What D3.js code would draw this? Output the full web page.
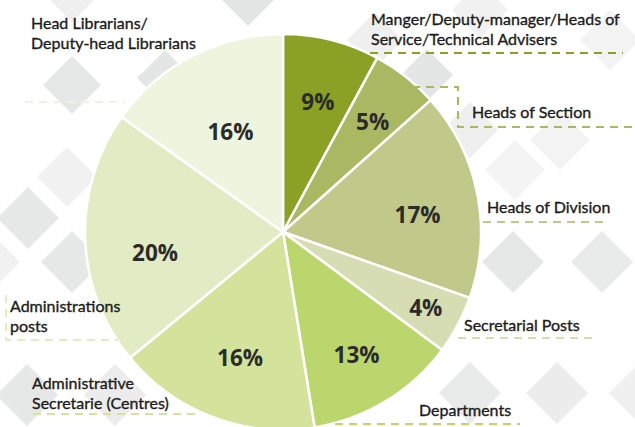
<!DOCTYPE html>
<html><head><meta charset="utf-8">
<script src="https://cdn.jsdelivr.net/npm/d3@7"></script>
<style>html,body{margin:0;padding:0;background:#fff;}svg{display:block;}</style>
</head><body><svg id="c" width="635" height="427"></svg>
<script>
// Data (clockwise from 12 o'clock)
const categories = ["Manger/Deputy-manager/Heads of Service/Technical Advisers","Heads of Section","Heads of Division","Secretarial Posts","Departments","Administrative Secretarie (Centres)","Administrations posts","Head Librarians/ Deputy-head Librarians"];
const sliceShares = [7.9, 5.5, 17.0, 4.75, 12.3, 16.6, 20.8, 15.15];
const percentLabels = ["9%","5%","17%","4%","13%","16%","20%","16%"];
const sliceColors = ["#8aa126","#aab863","#c1c98a","#d6ddb3","#bcd66e","#d3e39c","#e1ecc4","#eef5df"];

const W = 635, H = 427;
const svg = d3.select("#c");

// background diamonds (decoration)
const diamonds = [
  [248,-10,36,"#e4e5e5"],[72,-8,30,"#efefef"],[72,85,29,"#e6e7e7"],[165,78,28,"#e4e5e5"],
  [67,177,30,"#f1f1f1"],[28,218,31,"#e6e7e7"],[72,262,31,"#e6e7e7"],[-10,262,30,"#f1f1f1"],
  [27,395,31,"#e6e7e7"],[115,395,31,"#ececec"],[513,262,31,"#e6e7e7"],[602,262,31,"#e9eaea"],
  [470,393,31,"#e9eaea"],[557,393,31,"#ececec"],[640,393,31,"#f0f0f0"],[427,75,26,"#e4e5e5"],
  [375,40,28,"#efefef"],[480,10,28,"#f1f1f1"],[560,140,30,"#f3f3f3"],[515,170,30,"#f4f4f4"],
  [610,40,30,"#f3f3f3"],[470,130,28,"#efefef"]
];
svg.append("g").selectAll("path").data(diamonds).join("path")
  .attr("d", d => `M${d[0]},${d[1]-d[2]}L${d[0]+d[2]},${d[1]}L${d[0]},${d[1]+d[2]}L${d[0]-d[2]},${d[1]}Z`)
  .attr("fill", d => d[3]);

const cx = 283, cy = 232, R = 198;
const g = svg.append("g").attr("transform", `translate(${cx},${cy})`);
const pie = d3.pie().sort(null).value(d => d)(sliceShares);
const arc = d3.arc().innerRadius(0).outerRadius(R);
g.selectAll("path.s").data(pie).join("path").attr("class","s")
  .attr("d", arc).attr("fill", (d,i) => sliceColors[i])
  .attr("stroke", "#fff").attr("stroke-width", 2.5).attr("stroke-linejoin","round");

// percent labels (placed near centroid with manual nudges)
const labelArc = d3.arc().innerRadius(130).outerRadius(130);
const nudges = [[3,-4],[9,-9],[7,8],[28,14],[6,11],[3,4],[2,16],[7,15]];
g.selectAll("text.p").data(pie).join("text").attr("class","p")
  .attr("x", (d,i) => labelArc.centroid(d)[0] + nudges[i][0])
  .attr("y", (d,i) => labelArc.centroid(d)[1] + nudges[i][1])
  .attr("text-anchor","middle").attr("dominant-baseline","central")
  .attr("font-family","'Open Sans'").attr("font-weight",700).attr("font-size",22.5)
  .attr("fill","#2b2b2b").text((d,i) => percentLabels[i]);

// category labels
const labelLines = [
  ["Manger/Deputy-manager/Heads of","Service/Technical Advisers"],
  ["Heads of Section"],["Heads of Division"],["Secretarial Posts"],["Departments"],
  ["Administrative","Secretarie (Centres)"],["Administrations","posts"],
  ["Head Librarians/","Deputy-head Librarians"]
];
const labelPos = [[371,25],[472,118],[487,213],[464,331],[419,416],[32,389],[10,312],[31,29]];
const lead = [
  "M370,53H623",
  "M412,87H458V127H635",
  "M483,222H607",
  "M458,338H598",
  "M335,424H520",
  "M33,414H195",
  "M6,295V340H118",
  "M25,102H125"
];
svg.append("g").selectAll("path").data(lead).join("path")
  .attr("d", d => d).attr("fill","none")
  .attr("stroke", (d,i) => sliceColors[i]).attr("stroke-width",2)
  .attr("stroke-dasharray","8,6");
const tg = svg.append("g").attr("font-family","Lato").attr("font-size",16).attr("fill","#1c1c1c")
  .attr("stroke","#1c1c1c").attr("stroke-width",0.35);
labelLines.forEach((lines,i) => {
  const t = tg.append("text").attr("x", labelPos[i][0]).attr("y", labelPos[i][1]);
  lines.forEach((s,j) => t.append("tspan").attr("x", labelPos[i][0]).attr("dy", j ? 19.5 : 0).text(s));
});
</script></body></html>
